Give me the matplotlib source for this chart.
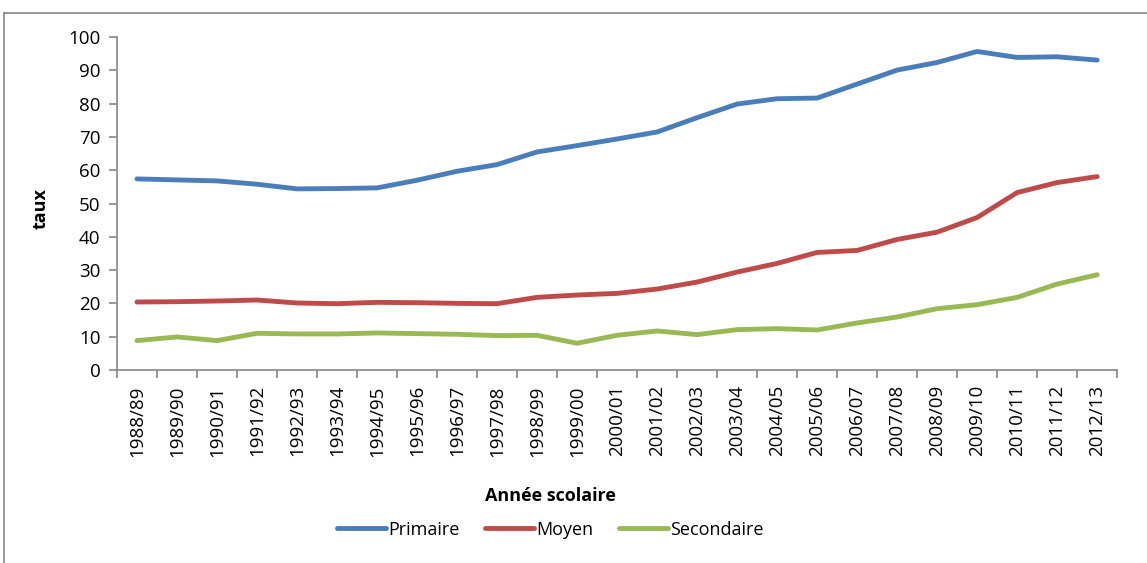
import matplotlib
matplotlib.use("Agg")
import matplotlib.pyplot as plt
from matplotlib.lines import Line2D
import numpy as np

# Années scolaires
annees = ["1988/89", "1989/90", "1990/91", "1991/92", "1992/93", "1993/94",
          "1994/95", "1995/96", "1996/97", "1997/98", "1998/99", "1999/00",
          "2000/01", "2001/02", "2002/03", "2003/04", "2004/05", "2005/06",
          "2006/07", "2007/08", "2008/09", "2009/10", "2010/11", "2011/12",
          "2012/13"]

primaire = [57.4, 57.1, 56.8, 55.8, 54.4, 54.5, 54.7, 57.0, 59.7, 61.7,
            65.5, 67.4, 69.4, 71.5, 75.8, 79.9, 81.5, 81.7, 85.9, 90.1,
            92.4, 95.7, 93.9, 94.1, 93.1]
moyen = [20.4, 20.5, 20.7, 21.0, 20.1, 19.9, 20.3, 20.2, 20.0, 19.9,
         21.8, 22.5, 23.0, 24.3, 26.4, 29.4, 32.0, 35.3, 35.9, 39.2,
         41.4, 45.8, 53.3, 56.3, 58.1]
secondaire = [8.8, 9.9, 8.8, 11.0, 10.8, 10.8, 11.1, 10.9, 10.7, 10.3,
              10.4, 8.0, 10.4, 11.7, 10.6, 12.1, 12.4, 12.0, 14.1, 15.9,
              18.4, 19.6, 21.8, 25.8, 28.6]

series = {"Primaire": (primaire, "#4a7ebb"),
          "Moyen": (moyen, "#be4b48"),
          "Secondaire": (secondaire, "#98b954")}

plt.rcParams["font.family"] = ["Open Sans", "DejaVu Sans"]

fig = plt.figure(figsize=(11.47, 5.63), dpi=100)
ax = fig.add_axes([0.102, 0.343, 0.872, 0.591])

x = np.arange(len(annees))
lignes = []
for nom, (vals, coul) in series.items():
    l, = ax.plot(x, vals, color=coul, lw=3.5, label=nom, solid_capstyle="round")
    lignes.append(l)

ax.set_xlim(-0.5, len(annees) - 0.5)
ax.set_ylim(0, 100)
ax.set_yticks(range(0, 101, 10))
ax.set_xticks(x)
ax.set_xticklabels(annees, rotation=90, fontsize=13.5)
ax.set_xticks(np.arange(-0.5, len(annees)), minor=True)
ax.tick_params(axis="x", which="major", length=0, pad=11)
ax.tick_params(axis="x", which="minor", length=6, color="#868686", width=1.2)
ax.tick_params(axis="y", length=6, color="#868686", width=1.2, labelsize=13.5,
               pad=6)

for s in ["top", "right"]:
    ax.spines[s].set_visible(False)
for s in ["left", "bottom"]:
    ax.spines[s].set_color("#868686")
    ax.spines[s].set_linewidth(1.2)

# titres des axes
fig.text(0.035, 0.63, "taux", rotation=90, fontsize=13, fontweight="bold",
         ha="center", va="center")
fig.text(0.48, 0.119, "Année scolaire", fontsize=13, fontweight="bold",
         ha="center", va="center")

fig.legend(handles=lignes, loc="center", bbox_to_anchor=(0.48, 0.059),
           ncol=3, frameon=False, fontsize=13, handlelength=2.7,
           columnspacing=1.4, handletextpad=0.15)

# cadre du graphique
fig.add_artist(Line2D([0.0035, 1.0], [0.977, 0.977], color="#868686", lw=1.2))
fig.add_artist(Line2D([0.0035, 0.0035], [0.0, 0.977], color="#868686", lw=1.2))

fig.savefig("out.png", dpi=100)
